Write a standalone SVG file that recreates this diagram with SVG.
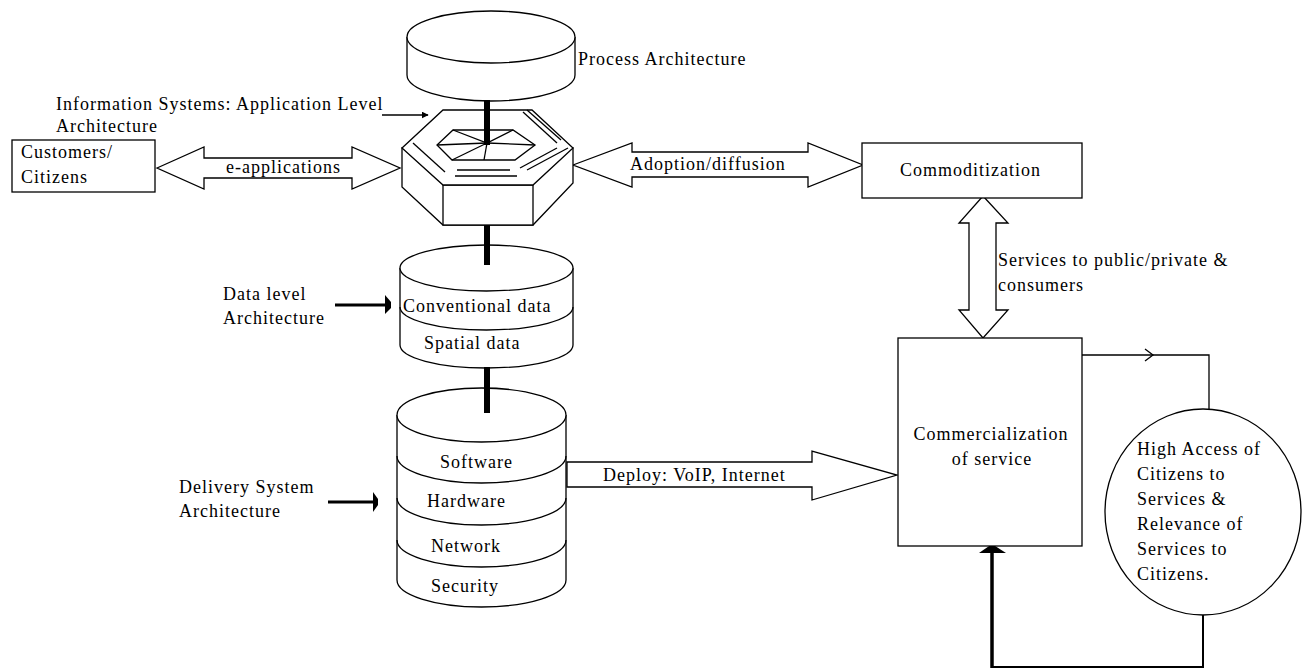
<svg xmlns="http://www.w3.org/2000/svg" width="1308" height="669" viewBox="0 0 1308 669">
  <style>
    .ln { fill: none; stroke: #000; stroke-width: 1.3; }
    .sh { fill: #fff; stroke: #000; stroke-width: 1.3; stroke-linejoin: miter; }
    .t { font-family: "Liberation Serif", "Times New Roman", serif; font-size: 18px; letter-spacing: 1px; fill: #000; }
    .bar { fill: #000; }
  </style>
  <defs>
    <marker id="tri" viewBox="0 0 10 10" refX="9" refY="5" markerWidth="7" markerHeight="7" markerUnits="userSpaceOnUse" orient="auto">
      <path d="M0,0 L10,5 L0,10 z" fill="#000"/>
    </marker>
  </defs>
  <rect width="1308" height="669" fill="#fff"/>

  <!-- connectors -->
  <g id="connectors">
    <!-- vertical spine through the architecture stack -->
    <rect class="bar" x="484" y="100" width="6" height="45"/>
    <rect class="bar" x="484" y="225" width="6" height="40"/>
    <rect class="bar" x="484" y="367" width="6" height="46"/>

    <!-- e-applications -->
    <polygon class="sh" points="157,168 204,147 204,158 352,158 352,147 400,168 352,189 352,178 204,178 204,189"/>
    <text class="t" x="226" y="173">e-applications</text>

    <!-- Adoption/diffusion -->
    <polygon class="sh" points="573,165 632,143 632,152 808,152 808,143 863,165 808,187 808,177 632,177 632,187"/>
    <text class="t" x="630" y="170">Adoption/diffusion</text>

    <!-- Services to public/private & consumers -->
    <polygon class="sh" points="983,196 1008,223 996,223 996,310 1008,310 983,338 959,310 969,310 969,223 959,223"/>
    <text class="t" x="998" y="266">Services to public/private &amp;</text>
    <text class="t" x="998" y="291">consumers</text>

    <!-- Deploy -->
    <polygon class="sh" points="567,462 812,462 812,451 897,475 812,500 812,487 567,487"/>
    <text class="t" x="603" y="481">Deploy: VoIP, Internet</text>

    <!-- label pointers -->
    <line class="ln" x1="382" y1="115" x2="428" y2="115" marker-end="url(#tri)"/>
    <line x1="335" y1="305" x2="387" y2="305" stroke="#000" stroke-width="3"/>
    <polygon points="385,295 391,302 391,308 385,314" fill="#000"/>
    <line x1="328" y1="502" x2="374" y2="502" stroke="#000" stroke-width="3"/>
    <polygon points="373,492 378,499 378,505 373,512" fill="#000"/>

    <!-- commercialization to citizens loop -->
    <polyline class="ln" points="1082,355 1209,355 1209,409"/>
    <polyline class="ln" points="1145,349 1153,355 1145,361"/>
    <polyline fill="none" stroke="#000" stroke-width="2" points="1203,615 1203,667 992,667"/>
    <line x1="992" y1="668" x2="992" y2="550" stroke="#000" stroke-width="3.5"/>
    <polygon points="979,553 992,544 1006,553" fill="#000"/>
  </g>

  <!-- Process Architecture cylinder -->
  <g id="process-architecture">
    <path class="sh" d="M407,37 V75 A84,26 0 0 0 575,75 V37"/>
    <ellipse class="sh" cx="491" cy="37" rx="84" ry="26"/>
    <text class="t" x="578" y="65">Process Architecture</text>
  </g>

  <!-- Application level (hexagonal prism) -->
  <g id="application-level">
    <text class="t" x="56" y="110">Information Systems: Application Level</text>
    <text class="t" x="56" y="132">Architecture</text>
    <polygon class="sh" points="402,148 402,187 443,225 533,225 573,183 573,148"/>
    <rect class="sh" x="443" y="185" width="90" height="40"/>
    <polygon class="sh" points="443,110 532,110 573,148 533,185 443,185 402,148"/>
    <!-- inner face detail -->
    <polygon class="ln" points="453,130 513,130 535,145 515,160 452,160 437,145"/>
    <polyline class="ln" points="453,130 487,143 535,145"/>
    <polyline class="ln" points="437,145 487,143 513,130"/>
    <line class="ln" x1="487" y1="143" x2="484" y2="160"/>
    <line class="ln" x1="452" y1="160" x2="487" y2="143"/>
    <!-- bevel lines -->
    <line class="ln" x1="413" y1="143" x2="445" y2="172"/>
    <line class="ln" x1="523" y1="112" x2="557" y2="143"/>
    <line class="ln" x1="527" y1="110" x2="561" y2="140"/>
    <line class="ln" x1="520" y1="168" x2="557" y2="148"/>
    <line class="ln" x1="527" y1="170" x2="568" y2="148"/>
    <line class="ln" x1="457" y1="170" x2="510" y2="170"/>
    <line class="ln" x1="455" y1="176" x2="517" y2="176"/>
    <rect class="bar" x="484" y="100" width="6" height="45"/>
  </g>

  <!-- Customers / Citizens -->
  <g id="customers">
    <rect class="sh" x="12" y="140" width="143" height="52"/>
    <text class="t" x="21" y="158">Customers/</text>
    <text class="t" x="21" y="183">Citizens</text>
  </g>

  <!-- Commoditization -->
  <g id="commoditization">
    <rect class="sh" x="862" y="143" width="220" height="55"/>
    <text class="t" x="900" y="176">Commoditization</text>
  </g>

  <!-- Data level cylinder -->
  <g id="data-level">
    <text class="t" x="223" y="300">Data level</text>
    <text class="t" x="223" y="324">Architecture</text>
    <path class="sh" d="M400,268 V345 A86.5,23 0 0 0 573,345 V268"/>
    <path class="ln" d="M400,307 A86.5,23 0 0 0 573,307"/>
    <ellipse class="sh" cx="486.5" cy="268" rx="86.5" ry="23"/>
    <rect class="bar" x="484" y="225" width="6" height="40"/>
    <text class="t" x="403" y="312">Conventional data</text>
    <text class="t" x="424" y="349">Spatial data</text>
  </g>

  <!-- Delivery system cylinder -->
  <g id="delivery-system">
    <text class="t" x="179" y="493">Delivery System</text>
    <text class="t" x="179" y="517">Architecture</text>
    <path class="sh" d="M397,415 V580 A84.5,27 0 0 0 566,580 V415"/>
    <path class="ln" d="M397,456 A84.5,27 0 0 0 566,456"/>
    <path class="ln" d="M397,498 A84.5,27 0 0 0 566,498"/>
    <path class="ln" d="M397,540 A84.5,27 0 0 0 566,540"/>
    <ellipse class="sh" cx="481.5" cy="415" rx="84.5" ry="27"/>
    <rect class="bar" x="484" y="367" width="6" height="46"/>
    <text class="t" x="440" y="468">Software</text>
    <text class="t" x="427" y="507">Hardware</text>
    <text class="t" x="431" y="552">Network</text>
    <text class="t" x="431" y="592">Security</text>
  </g>

  <!-- Commercialization of service -->
  <g id="commercialization">
    <rect class="sh" x="898" y="338" width="184" height="208"/>
    <text class="t" x="991" y="440" text-anchor="middle">Commercialization</text>
    <text class="t" x="992" y="465" text-anchor="middle">of service</text>
  </g>

  <!-- Citizens access circle -->
  <g id="citizen-access">
    <ellipse class="sh" cx="1203" cy="512" rx="98" ry="103"/>
    <text class="t" x="1137" y="455">High Access of</text>
    <text class="t" x="1137" y="480">Citizens to</text>
    <text class="t" x="1137" y="505">Services &amp;</text>
    <text class="t" x="1137" y="530">Relevance of</text>
    <text class="t" x="1137" y="555">Services to</text>
    <text class="t" x="1137" y="580">Citizens.</text>
  </g>
</svg>
